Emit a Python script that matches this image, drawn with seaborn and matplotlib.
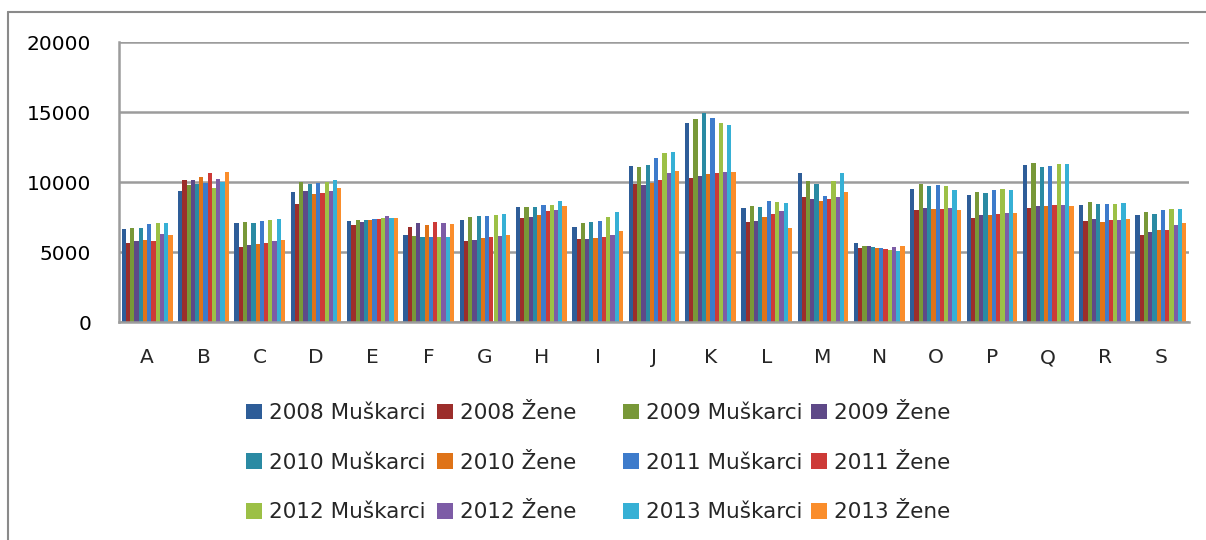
import pandas as pd
import numpy as np
import seaborn as sns
import matplotlib.pyplot as plt
from matplotlib.lines import Line2D

# categories on the x axis
kategorije = list("ABCDEFGHIJKLMNOPQRS")

# values, one list per series (A..S)
m2008 = [6620, 9330, 7050, 9260, 7190, 6190, 7260, 8190, 6790, 11140, 14210, 8140, 10640, 5640, 9500, 9070, 11210, 8360, 7640]
z2008 = [5620, 10120, 5330, 8400, 6900, 6760, 5760, 7400, 5930, 9860, 10290, 7140, 8930, 5290, 8000, 7430, 8140, 7210, 6210]
m2009 = [6690, 9760, 7120, 9980, 7260, 6120, 7480, 8190, 7070, 11070, 14500, 8290, 10070, 5430, 9860, 9290, 11360, 8570, 7860]
z2009 = [5760, 10120, 5480, 9330, 7120, 7050, 5830, 7480, 5930, 9790, 10430, 7210, 8790, 5430, 8140, 7640, 8290, 7360, 6430]
m2010 = [6690, 9830, 7050, 9830, 7260, 6050, 7550, 8190, 7140, 11210, 14930, 8210, 9860, 5360, 9710, 9210, 11070, 8430, 7710]
z2010 = [5830, 10330, 5550, 9120, 7260, 6900, 5980, 7620, 6000, 9930, 10570, 7500, 8640, 5290, 8070, 7640, 8290, 7140, 6570]
m2011 = [6980, 9900, 7190, 9900, 7330, 6050, 7550, 8330, 7210, 11710, 14570, 8640, 9000, 5290, 9790, 9430, 11140, 8430, 8000]
z2011 = [5760, 10620, 5620, 9190, 7330, 7120, 6050, 7900, 6070, 10140, 10640, 7710, 8790, 5210, 8070, 7710, 8360, 7290, 6570]
m2012 = [7050, 9550, 7260, 9980, 7400, 6050, 7620, 8330, 7500, 12070, 14210, 8570, 10070, 5140, 9710, 9500, 11290, 8430, 8070]
z2012 = [6260, 10190, 5760, 9330, 7550, 7050, 6120, 7980, 6210, 10640, 10710, 7930, 8930, 5360, 8140, 7790, 8360, 7290, 6930]
m2013 = [7050, 9980, 7330, 10120, 7400, 6050, 7690, 8620, 7860, 12140, 14070, 8500, 10640, 5070, 9430, 9430, 11290, 8500, 8070]
z2013 = [6190, 10690, 5830, 9550, 7400, 6980, 6190, 8260, 6500, 10790, 10710, 6710, 9290, 5430, 8000, 7790, 8290, 7360, 7070]

serije = ["2008 Muškarci", "2008 Žene", "2009 Muškarci", "2009 Žene",
          "2010 Muškarci", "2010 Žene", "2011 Muškarci", "2011 Žene",
          "2012 Muškarci", "2012 Žene", "2013 Muškarci", "2013 Žene"]
vrijednosti = [m2008, z2008, m2009, z2009, m2010, z2010,
               m2011, z2011, m2012, z2012, m2013, z2013]
boje = ["#2E5D98", "#9C2E2B", "#789838", "#5E4988", "#2A8AA3", "#DF7318",
        "#3D7BCB", "#CD3A37", "#9CC046", "#7D5CA6", "#36B0D5", "#FA8D2B"]

# long table for seaborn
df = pd.DataFrame({
    "kategorija": kategorije * len(serije),
    "serija": np.repeat(serije, len(kategorije)),
    "vrijednost": np.concatenate(vrijednosti),
})

sns.set_style("white")
plt.rcParams['font.family'] = ['DejaVu Sans']
siva = "#9c9c9c"

fig = plt.figure(figsize=(12.06, 5.4), dpi=100)
ax = fig.add_axes([119/1206, 1 - 322/540, (1189 - 119)/1206, (322 - 42)/540])

sns.barplot(data=df, x="kategorija", y="vrijednost", hue="serija",
            palette=boje, width=0.9, saturation=1, gap=0, linewidth=0, ax=ax)

handles, labels = ax.get_legend_handles_labels()
ax.legend_.remove()

ax.set_ylim(0, 20000)
ax.set_xlim(-0.5, len(kategorije) - 0.5)
ax.set_yticks([0, 5000, 10000, 15000, 20000])
ax.set_xlabel("")
ax.set_ylabel("")

# gridlines and axes
ax.yaxis.grid(True, color=siva, linewidth=1.8)
ax.set_axisbelow(True)
for s in ["top", "right"]:
    ax.spines[s].set_visible(False)
for s in ["left", "bottom"]:
    ax.spines[s].set_color(siva)
    ax.spines[s].set_linewidth(1.8)

ax.tick_params(axis="y", length=7, width=1.5, color=siva, pad=13,
               labelsize=14.5, labelcolor="black")
ax.set_xticks(np.arange(-0.5, len(kategorije)), minor=True)
ax.tick_params(axis="x", which="minor", length=6, width=1.5, color=siva)
ax.tick_params(axis="x", which="major", length=0, pad=19, labelsize=14.5)

# legend: 4 columns, filled row by row
kol_x = [246, 437, 623, 811]
for c in range(4):
    idx = [r * 4 + c for r in range(3)]
    leg = fig.legend([handles[i] for i in idx], [labels[i] for i in idx],
                     loc="upper left", bbox_to_anchor=(kol_x[c] / 1206, 1 - 403 / 540),
                     frameon=False, borderpad=0, borderaxespad=0,
                     handlelength=0.75, handleheight=0.75, handletextpad=0.3,
                     labelspacing=1.38, fontsize=15.5)

# outer chart frame
fig.add_artist(Line2D([8/1206, 8/1206], [0, 1 - 12/540], color="#8a8a8a", lw=1.5))
fig.add_artist(Line2D([8/1206, 1], [1 - 12/540, 1 - 12/540], color="#8a8a8a", lw=1.5))

fig.savefig("out.png", dpi=100)
